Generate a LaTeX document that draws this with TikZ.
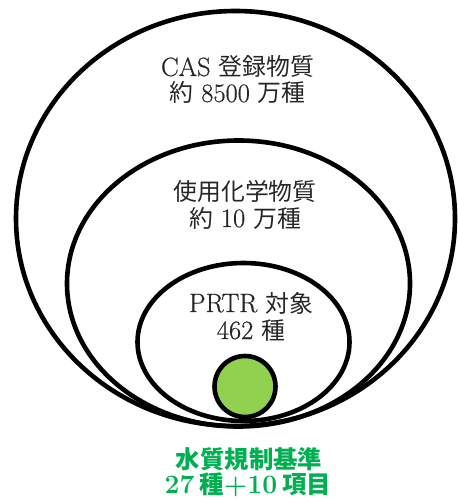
\documentclass[tikz,border=0pt]{standalone}
\usepackage{fontspec}
\newfontfamily\lmh{Latin Modern Roman}[FakeBold=0.6]
\newfontfamily\cjk{Noto Sans CJK JP}[Scale=0.9]
\newfontfamily\cjkb{Noto Sans CJK JP Bold}[Scale=0.92]
\definecolor{leaf}{HTML}{92D050}
\definecolor{grntext}{HTML}{00B050}
\begin{document}
\begin{tikzpicture}[x=1bp,y=-1bp,
  ring/.style={draw=black,line width=4.6bp},
  lbl/.style={anchor=base,inner sep=0pt,text=black!85,font=\fontsize{26.5bp}{27bp}\lmh},
  glbl/.style={anchor=base,inner sep=0pt,text=grntext,font=\fontsize{26.5bp}{27bp}\selectfont\bfseries}]
\useasboundingbox (0,0) rectangle (458,499);
\draw[ring] (235.5,218.5) ellipse [x radius=219.5,y radius=207.5];
\draw[ring] (238.5,283.5) ellipse [x radius=171.5,y radius=143];
\draw[ring] (243.5,342) ellipse [x radius=106,y radius=79];
\draw[ring,fill=leaf] (245,386.5) circle [radius=30.5];
\node[lbl] (cas1) at (237.5,76) {CAS {\cjk 登録物質}};
\node[lbl] (cas2) at (237.5,102) {{\cjk 約} 8500 {\cjk 万種}};
\node[lbl] (use1) at (245,200) {{\cjk 使用化学物質}};
\node[lbl] (use2) at (245,227) {{\cjk 約} 10 {\cjk 万種}};
\node[lbl] (prtr1) at (251,312) {PRTR {\cjk 対象}};
\node[lbl] (prtr2) at (251,339) {462 {\cjk 種}};
\node[glbl] (water1) at (249,468) {{\cjkb 水質規制基準}};
\node[glbl] (water2) at (248,493.5) {27\hspace{0.2em}{\cjkb 種}+10\hspace{0.2em}{\cjkb 項目}};
\end{tikzpicture}
\end{document}
